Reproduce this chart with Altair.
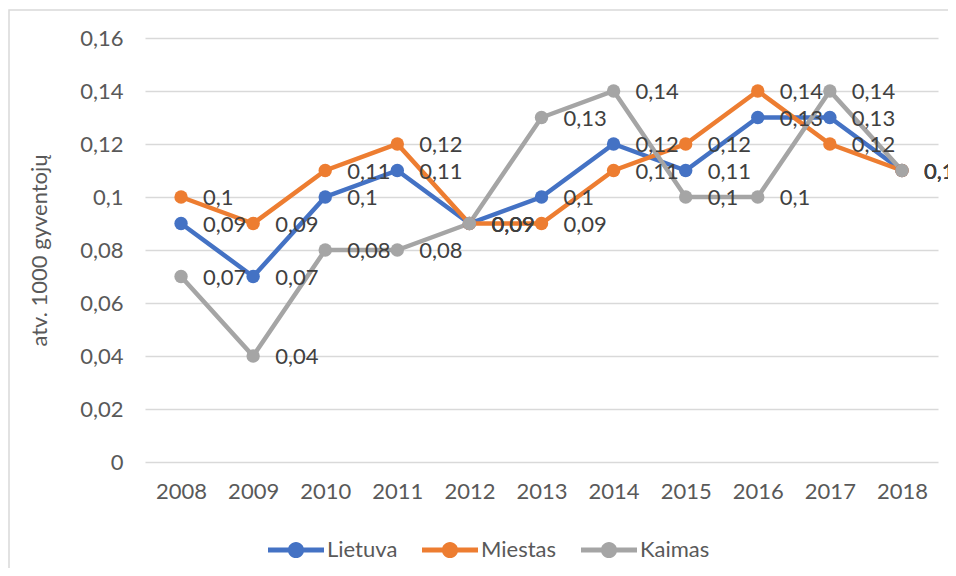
import altair as alt
import pandas as pd

years = ["2008", "2009", "2010", "2011", "2012", "2013", "2014", "2015", "2016", "2017", "2018"]
lietuva = [0.09, 0.07, 0.10, 0.11, 0.09, 0.10, 0.12, 0.11, 0.13, 0.13, 0.11]
miestas = [0.10, 0.09, 0.11, 0.12, 0.09, 0.09, 0.11, 0.12, 0.14, 0.12, 0.11]
kaimas = [0.07, 0.04, 0.08, 0.08, 0.09, 0.13, 0.14, 0.10, 0.10, 0.14, 0.11]
series = ["Lietuva", "Miestas", "Kaimas"]
colors = ["#4472C4", "#ED7D31", "#A5A5A5"]
y_ticks = [0, 0.02, 0.04, 0.06, 0.08, 0.10, 0.12, 0.14, 0.16]

rows = []
for name, vals in zip(series, [lietuva, miestas, kaimas]):
    for i, (yr, v) in enumerate(zip(years, vals)):
        rows.append({"year": yr, "value": v, "series": name, "order": series.index(name)})
df = pd.DataFrame(rows)

FONT = "Lato"
TXT = "#595959"
FS = 22

legend_symbol = ("M-1,-0.09 H1 V0.09 H-1 Z "
                 "M0.29,0 A0.29,0.29 0 1 1 -0.29,0 A0.29,0.29 0 1 1 0.29,0 Z")

x = alt.X("year:N", sort=years, title=None,
          scale=alt.Scale(type="point", padding=0.5),
          axis=alt.Axis(labelFontSize=FS, labelColor=TXT, labelFont=FONT, ticks=False,
                        domain=False, labelPadding=19, labelAngle=0))
y = alt.Y("value:Q", title="atv. 1000 gyventojų",
          scale=alt.Scale(domain=[0, 0.16], nice=False),
          axis=alt.Axis(values=y_ticks, labelExpr="replace(format(datum.value, ''), '.', ',')",
                        labelFontSize=FS, labelColor=TXT, labelFont=FONT, ticks=False,
                        domain=False, labelPadding=22, grid=True, gridColor="#D9D9D9",
                        gridWidth=1.5, titleFontSize=FS, titleColor=TXT, titleFont=FONT,
                        titleFontWeight="normal", titlePadding=28))
color = alt.Color("series:N", sort=series,
                  scale=alt.Scale(domain=series, range=colors),
                  legend=alt.Legend(title=None, orient="none", direction="horizontal",
                                    legendX=123, legendY=484, symbolType=legend_symbol,
                                    symbolSize=3136, symbolStrokeWidth=0, labelFontSize=FS,
                                    labelFont=FONT, labelColor=TXT, columnPadding=24,
                                    labelOffset=3, symbolOpacity=1))

base = alt.Chart(df)

border = alt.Chart(pd.DataFrame({"d": [0]})).mark_rect(
    fill=None, stroke="#D9D9D9", strokeWidth=1.5).encode(
    x=alt.value(-136), x2=alt.value(820), y=alt.value(-28), y2=alt.value(560))

lines = base.mark_line(strokeWidth=4.5).encode(
    x=x, y=y, color=color, detail="series:N", order=alt.Order("order:Q"))

points = base.mark_point(filled=True, size=180, opacity=1).encode(
    x=x, y=y, color=alt.Color("series:N", sort=series,
                              scale=alt.Scale(domain=series, range=colors), legend=None),
    order=alt.Order("order:Q"))

labels = base.transform_calculate(
    lab="replace(format(datum.value, ''), '.', ',')"
).mark_text(align="left", baseline="middle", dx=22, dy=1, fontSize=FS, font=FONT,
            color="#404040").encode(x=x, y=y, text="lab:N")

layers = [border]
for s in series:
    layers.append(lines.transform_filter(alt.datum.series == s))
for s in series:
    layers.append(points.transform_filter(alt.datum.series == s))
layers.append(labels)

chart = alt.layer(*layers).properties(
    width=793, height=424,
    padding={"left": 137, "top": 30, "right": 10, "bottom": 106},
    autosize=alt.AutoSizeParams(type="none"),
    background="white",
).configure_view(stroke=None)

chart.save("out.html", embed_options={"renderer": "svg", "actions": False})
